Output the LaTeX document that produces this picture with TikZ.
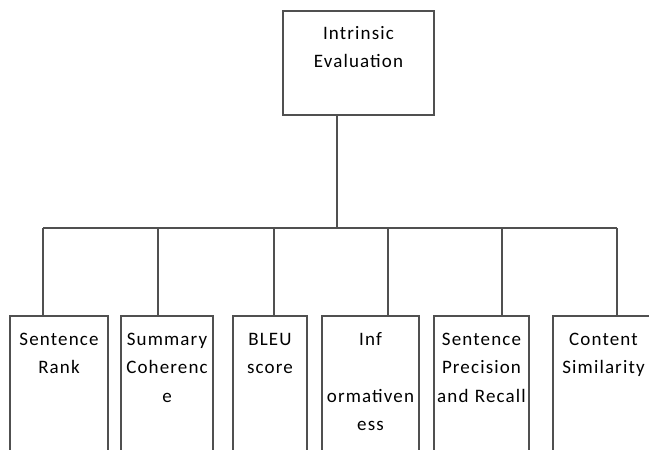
\documentclass[tikz,border=0pt]{standalone}
\usepackage{fontspec}
\setmainfont{Carlito}[LetterSpace=6]
\usepackage{tikz}
\definecolor{linegray}{RGB}{80,80,80}
\tikzstyle{box}=[draw=linegray, line width=1.6pt, inner sep=0pt, anchor=north, minimum height=200pt]
\tikzstyle{label}=[anchor=north, inner sep=0pt, text width=120pt, align=center, text=black,
  font=\fontsize{19}{28.5}\selectfont]
\tikzstyle{wire}=[draw=linegray, line width=1.6pt]

\begin{document}
\begin{tikzpicture}[x=1pt, y=-1pt]
      \useasboundingbox (0,0) rectangle (649,450);
      \clip (0,0) rectangle (649,450);

      % top box
      \node[box, minimum width=151pt, minimum height=104pt] (top) at (358.5,10) {};
      \node[label, text width=150pt] (toptext) at ([yshift=-9pt]top.north)
          {\rule{0pt}{20pt}Intrinsic\\ Evaluation};

      % leaves, cut off at the bottom
      \node[box, minimum width=98pt]  (b1) at (59,315) {};
      \node[box, minimum width=92pt]  (b2) at (167,315) {};
      \node[box, minimum width=74pt]  (b3) at (270,315) {};
      \node[box, minimum width=97pt]  (b4) at (370.5,315) {};
      \node[box, minimum width=95pt]  (b5) at (481.5,315) {};
      \node[box, minimum width=101pt] (b6) at (603.5,315) {};

      \node[label] (t1) at ([yshift=-10pt]b1.north) {\rule{0pt}{20pt}Sentence\\ Rank};
      \node[label] (t2) at ([yshift=-10pt]b2.north) {\rule{0pt}{20pt}Summary\\ Coherenc\\ e};
      \node[label] (t3) at ([yshift=-10pt]b3.north) {\rule{0pt}{20pt}BLEU\\ score};
      \node[label] (t4) at ([yshift=-10pt]b4.north) {\rule{0pt}{20pt}Inf\\ \mbox{}\\ ormativen\\ ess};
      \node[label] (t5) at ([yshift=-10pt]b5.north) {\rule{0pt}{20pt}Sentence\\ Precision\\ and Recall};
      \node[label] (t6) at ([yshift=-10pt]b6.north) {\rule{0pt}{20pt}Content\\ Similarity};

      % bar
      \coordinate (hub) at (337,228);
      \foreach \x [count = \i] in {43,158,274,388,502,617}
        \coordinate (j\i) at (\x,228);
      \draw[wire] (hub |- top.south) -- (hub);
      \draw[wire] (j1) -- (j6);
      \foreach \i in {1,...,6}{
        \draw[wire] (j\i) -- (j\i |- b\i.north);
      }
    \end{tikzpicture}
\end{document}
